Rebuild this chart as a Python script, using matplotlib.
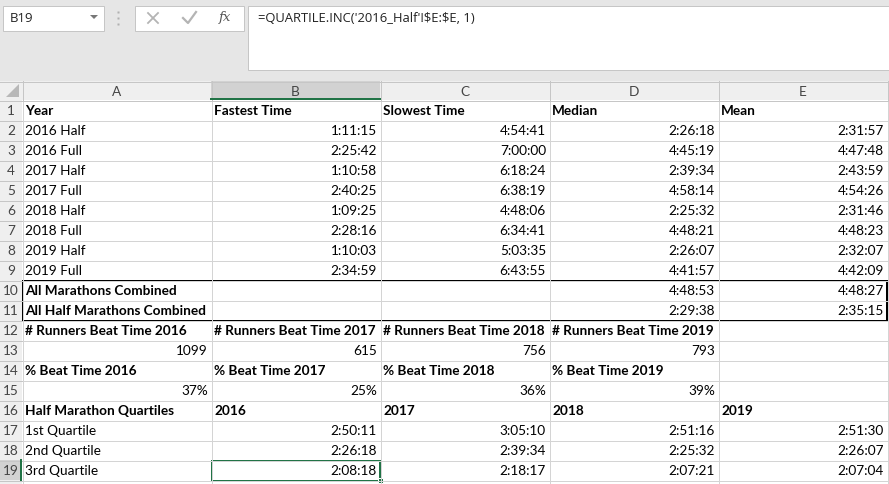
import matplotlib
matplotlib.use('Agg')
import matplotlib.pyplot as plt
from matplotlib.patches import Rectangle, Polygon

# Sheet content
col_letters = ['A', 'B', 'C', 'D', 'E']
years = ['2016', '2017', '2018', '2019']
race_names = ['2016 Half', '2016 Full', '2017 Half', '2017 Full',
              '2018 Half', '2018 Full', '2019 Half', '2019 Full']
fastest = ['1:11:15', '2:25:42', '1:10:58', '2:40:25', '1:09:25', '2:28:16', '1:10:03', '2:34:59']
slowest = ['4:54:41', '7:00:00', '6:18:24', '6:38:19', '4:48:06', '6:34:41', '5:03:35', '6:43:55']
median = ['2:26:18', '4:45:19', '2:39:34', '4:58:14', '2:25:32', '4:48:21', '2:26:07', '4:41:57']
mean = ['2:31:57', '4:47:48', '2:43:59', '4:54:26', '2:31:46', '4:48:23', '2:32:07', '4:42:09']
combined_names = ['All Marathons Combined', 'All Half Marathons Combined']
combined_median = ['4:48:53', '2:29:38']
combined_mean = ['4:48:27', '2:35:15']
runners_beat = [1099, 615, 756, 793]
pct_beat = [37, 25, 36, 39]
quartile_names = ['1st Quartile', '2nd Quartile', '3rd Quartile']
quartiles = {
    '2016': ['2:50:11', '2:26:18', '2:08:18'],
    '2017': ['3:05:10', '2:39:34', '2:18:17'],
    '2018': ['2:51:16', '2:25:32', '2:07:21'],
    '2019': ['2:51:30', '2:26:07', '2:07:04'],
}
name_box = 'B19'
formula = "=QUARTILE.INC('2016_Half'!$E:$E, 1)"

# Layout (pixels)
W, H = 889, 484
hdr_w = 22
col_w = [189, 169, 169, 169, 169]
hdr_top, hdr_bot = 81, 100
row_h = 20
n_rows = 19
sel_row, sel_col = 19, 1

cell_font = 'Lato'
ui_font = 'Open Sans'
fs = 9.8
px = 0.72  # one pixel in points
grid_col = '#d4d4d4'
green = '#217346'


def build_cells():
    # dict (row, col) -> (text, bold, align)
    cells = {}
    head = ['Year', 'Fastest Time', 'Slowest Time', 'Median', 'Mean']
    for c, t in enumerate(head):
        cells[(1, c)] = (t, True, 'left')
    for i in range(len(race_names)):
        r = i + 2
        cells[(r, 0)] = (race_names[i], False, 'left')
        cells[(r, 1)] = (fastest[i], False, 'right')
        cells[(r, 2)] = (slowest[i], False, 'right')
        cells[(r, 3)] = (median[i], False, 'right')
        cells[(r, 4)] = (mean[i], False, 'right')
    for i in range(2):
        r = 10 + i
        cells[(r, 0)] = (combined_names[i], True, 'left')
        cells[(r, 3)] = (combined_median[i], False, 'right')
        cells[(r, 4)] = (combined_mean[i], False, 'right')
    for c, y in enumerate(years):
        cells[(12, c)] = ('# Runners Beat Time ' + y, True, 'left')
        cells[(13, c)] = (str(runners_beat[c]), False, 'right')
        cells[(14, c)] = ('% Beat Time ' + y, True, 'left')
        cells[(15, c)] = (str(pct_beat[c]) + '%', False, 'right')
    cells[(16, 0)] = ('Half Marathon Quartiles', True, 'left')
    for c, y in enumerate(years):
        cells[(16, c + 1)] = (y, True, 'left')
    for i, q in enumerate(quartile_names):
        r = 17 + i
        cells[(r, 0)] = (q, False, 'left')
        for c, y in enumerate(years):
            cells[(r, c + 1)] = (quartiles[y][i], False, 'right')
    return cells


fig = plt.figure(figsize=(W / 100, H / 100), dpi=100)
ax = fig.add_axes([0, 0, 1, 1])
ax.set_xlim(0, W)
ax.set_ylim(H, 0)
ax.axis('off')
fig.patch.set_facecolor('#e6e6e6')

col_x = [hdr_w]
for w in col_w:
    col_x.append(col_x[-1] + w)
row_y = [hdr_bot + row_h * i for i in range(n_rows + 2)]

# ribbon / formula bar
ax.add_patch(Rectangle((2.5, 5.5), 101, 25, fc='white', ec='#c6c6c6', lw=px))
ax.text(10, 18, name_box, family=ui_font, fontsize=9.5, va='center', color='#222222')
ax.add_patch(Polygon([[90, 15], [98, 15], [94, 19]], closed=True, fc='#777777', ec='none'))
for dy in [12, 18, 24]:
    ax.plot(118, dy, marker='s', ms=1.6, color='#b0b0b0', mec='none')
ax.add_patch(Rectangle((134.5, 5.5), 109, 25, fc='white', ec='#c6c6c6', lw=px))
ax.plot([148, 158], [13, 23], color='#b4b4b4', lw=1.3)
ax.plot([148, 158], [23, 13], color='#b4b4b4', lw=1.3)
ax.plot([183, 188, 196], [18, 23, 12], color='#b4b4b4', lw=1.6)
ax.text(225, 18, 'fx', family='DejaVu Serif', style='italic', fontsize=9.5,
        ha='center', va='center', color='#555555')
ax.add_patch(Rectangle((247.5, 5.5), 650, 64, fc='white', ec='#c6c6c6', lw=px))
ax.text(258, 18, formula, family=ui_font, fontsize=9.4, va='center', color='#222222',
        parse_math=False)

# sheet area
ax.add_patch(Rectangle((0, hdr_top), W, H - hdr_top, fc='white', ec='none'))
ax.add_patch(Rectangle((0, hdr_top), W, hdr_bot - hdr_top, fc='#efefef', ec='none'))
ax.add_patch(Rectangle((0, hdr_bot), hdr_w, H - hdr_bot, fc='#efefef', ec='none'))
ax.add_patch(Polygon([[19, 84], [19, 97], [6, 97]], closed=True, fc='#b8b8b8', ec='none'))

# selected header highlights
ax.add_patch(Rectangle((col_x[sel_col], hdr_top), col_w[sel_col], hdr_bot - hdr_top,
                       fc='#d2d2d2', ec='none'))
ax.add_patch(Rectangle((0, row_y[sel_row - 1]), hdr_w, row_h, fc='#d2d2d2', ec='none'))

# grid lines (half-pixel offset keeps them sharp)
for y in row_y[1:]:
    ax.plot([hdr_w, W], [y + 0.5, y + 0.5], color=grid_col, lw=px)
    ax.plot([0, hdr_w], [y + 0.5, y + 0.5], color='#c6c6c6', lw=px)
for x in col_x:
    ax.plot([x + 0.5, x + 0.5], [hdr_bot, H], color=grid_col, lw=px)
    ax.plot([x + 0.5, x + 0.5], [hdr_top, hdr_bot], color='#c6c6c6', lw=px)
ax.plot([0, W], [hdr_bot + 0.5, hdr_bot + 0.5], color='#c6c6c6', lw=px)
ax.plot([0, W], [hdr_top + 0.5, hdr_top + 0.5], color='#c6c6c6', lw=px)
ax.plot([col_x[sel_col], col_x[sel_col + 1]], [hdr_bot - 1, hdr_bot - 1], color=green, lw=2 * px)
ax.plot([hdr_w - 1, hdr_w - 1], [row_y[sel_row - 1], row_y[sel_row]], color=green, lw=2 * px)

# header labels
for c, L in enumerate(col_letters):
    ax.text((col_x[c] + col_x[c + 1]) / 2, (hdr_top + hdr_bot) / 2 + 1, L, family=cell_font,
            fontsize=fs, ha='center', va='center', color='#444444')
for r in range(1, n_rows + 1):
    ax.text(hdr_w / 2, row_y[r - 1] + row_h / 2 + 1, str(r), family=cell_font,
            fontsize=fs, ha='center', va='center', color='#444444')

# cell texts
for (r, c), (t, bold, align) in build_cells().items():
    yc = row_y[r - 1] + row_h / 2 + 1
    if align == 'left':
        x = col_x[c] + 3
    else:
        x = col_x[c + 1] - 3
    ax.text(x, yc, t, family=cell_font, fontsize=fs, fontweight='bold' if bold else 'normal',
            ha=align, va='center', color='#000000')

# thick border around rows 10-11 (2 px, integer coords so it stays crisp)
ax.add_patch(Rectangle((col_x[0] + 1, row_y[9] + 1), col_x[-1] - col_x[0] - 1, 2 * row_h,
                       fc='none', ec='black', lw=2 * px))

# selected cell
ax.add_patch(Rectangle((col_x[sel_col] + 1, row_y[sel_row - 1] + 1), col_w[sel_col] - 1, row_h,
                       fc='none', ec=green, lw=2 * px))
ax.add_patch(Rectangle((col_x[sel_col + 1] - 2, row_y[sel_row] - 2), 5, 5, fc=green, ec='white', lw=px))

fig.savefig('out.png', dpi=100, facecolor=fig.get_facecolor())
